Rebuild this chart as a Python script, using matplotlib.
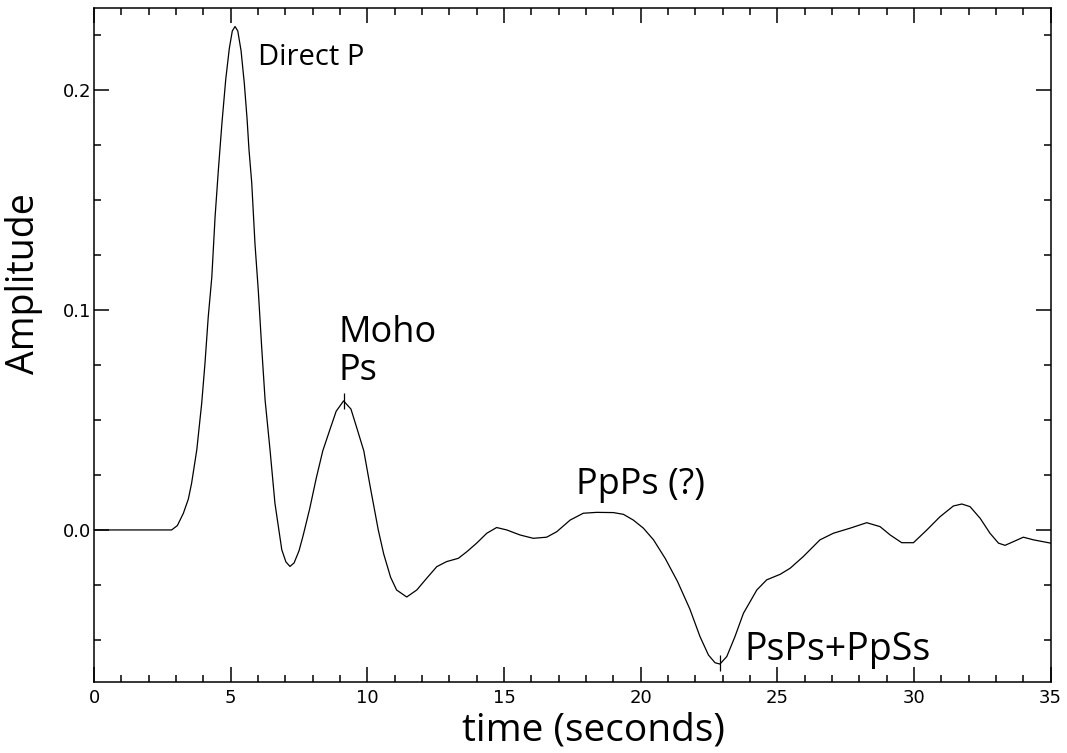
#!/usr/bin/python3
# Receiver function trace with labelled phases

import matplotlib.pyplot as plt
from matplotlib.ticker import MultipleLocator

time_s = [0, 2.7, 2.84, 3.05, 3.27, 3.45, 3.57, 3.76, 3.94, 4.06, 4.18, 4.31,
          4.43, 4.55, 4.68, 4.82, 4.95, 5.06, 5.16, 5.26, 5.38, 5.5, 5.6, 5.67,
          5.77, 5.89, 6.01, 6.14, 6.26, 6.44, 6.62, 6.87, 7.02, 7.17, 7.32, 7.5,
          7.65, 7.89, 8.13, 8.37, 8.64, 8.86, 9.13, 9.4, 9.6, 9.87, 10.1, 10.4,
          10.6, 10.85, 11.07, 11.44, 11.81, 12.17, 12.54, 12.9, 13.33, 13.64,
          14.0, 14.37, 14.73, 15.1, 15.59, 16.07, 16.56, 16.93, 17.42, 17.9,
          18.39, 19.0, 19.37, 19.73, 20.1, 20.47, 20.9, 21.35, 21.8, 22.17,
          22.48, 22.72, 22.9, 23.15, 23.45, 23.76, 24.25, 24.61, 25.1, 25.47,
          25.95, 26.56, 27.05, 27.66, 28.27, 28.76, 29.13, 29.55, 29.98, 30.47,
          30.95, 31.44, 31.75, 32.05, 32.42, 32.78, 33.09, 33.33, 33.64, 34.0,
          34.37, 35.0]
amplitude = [0, 0, 0, 0.002, 0.0076, 0.014, 0.0212, 0.0364, 0.0576, 0.0758,
             0.097, 0.115, 0.1425, 0.1638, 0.185, 0.205, 0.219, 0.227, 0.229,
             0.227, 0.218, 0.203, 0.187, 0.173, 0.158, 0.130, 0.109, 0.082,
             0.059, 0.0364, 0.0121, -0.009, -0.0145, -0.0166, -0.015, -0.0095,
             -0.0026, 0.0096, 0.0235, 0.036, 0.046, 0.054, 0.0587, 0.055, 0.047,
             0.036, 0.02, 0.0, -0.011, -0.0215, -0.0273, -0.0305, -0.0273,
             -0.022, -0.0167, -0.0144, -0.0129, -0.0099, -0.006, -0.0015, 0.0011,
             0.0, -0.0023, -0.0038, -0.0033, -0.0008, 0.0045, 0.0076, 0.008,
             0.0079, 0.0071, 0.0045, 0.0008, -0.0045, -0.013, -0.0235, -0.036,
             -0.0485, -0.0569, -0.0604, -0.061, -0.0576, -0.0485, -0.0379,
             -0.0273, -0.0227, -0.0202, -0.0174, -0.0121, -0.0045, -0.0015,
             0.0008, 0.0033, 0.0015, -0.0023, -0.0058, -0.0058, 0.0, 0.006,
             0.0109, 0.0118, 0.0106, 0.0053, -0.0015, -0.006, -0.007, -0.0053,
             -0.0033, -0.0045, -0.006]

# picked phases (small tick marks on the trace)
pick_times = [9.13, 22.9]
pick_amps = [0.0587, -0.0605]

# phase labels
labels = ["Direct P", "Moho\nPs", "PpPs (?)", "PsPs+PpSs"]
label_t = [6.0, 8.93, 17.64, 23.78]
label_a = [0.2147, 0.081, 0.0205, -0.0546]
label_size = [21, 26, 26, 27]

label_font = ['Open Sans', 'DejaVu Sans']
tick_font = ['Liberation Sans Narrow', 'DejaVu Sans']

fig = plt.figure(figsize=(10.67, 7.53), dpi=100)
ax = fig.add_axes([0.0881, 0.0939, 0.8966, 0.8951])

ax.plot(time_s, amplitude, color='black', lw=0.9)
ax.plot(pick_times, pick_amps, ls='none', marker='|', color='black',
        markersize=12, markeredgewidth=0.9)

for txt, t, a, s in zip(labels, label_t, label_a, label_size):
    ax.text(t, a, txt, fontsize=s, family=label_font, ha='left', va='center',
            linespacing=1.05)

ax.set_xlim(0, 35)
ax.set_ylim(-0.0693, 0.2373)
ax.xaxis.set_major_locator(MultipleLocator(5))
ax.xaxis.set_minor_locator(MultipleLocator(1))
ax.yaxis.set_major_locator(MultipleLocator(0.1))
ax.yaxis.set_minor_locator(MultipleLocator(0.025))
ax.yaxis.set_major_formatter(plt.FuncFormatter(lambda v, p: f"{v:.1f}"))

ax.tick_params(which='both', direction='in', top=True, right=True, width=1.1)
ax.tick_params(which='major', length=10.5, labelsize=13)
ax.tick_params(axis='x', which='major', pad=5)
ax.tick_params(axis='y', which='major', pad=2)
ax.tick_params(which='minor', length=5)
for lab in ax.get_xticklabels() + ax.get_yticklabels():
    lab.set_family(tick_font)
for sp in ax.spines.values():
    sp.set_linewidth(1.1)

ax.set_xlabel("time (seconds)", fontsize=28, family=label_font)
ax.set_ylabel("Amplitude", fontsize=27, family=label_font)
ax.xaxis.set_label_coords(0.5216, -0.043, transform=ax.transAxes)
ax.yaxis.set_label_coords(-0.053, 0.591, transform=ax.transAxes)

fig.savefig("out.png", dpi=100)
